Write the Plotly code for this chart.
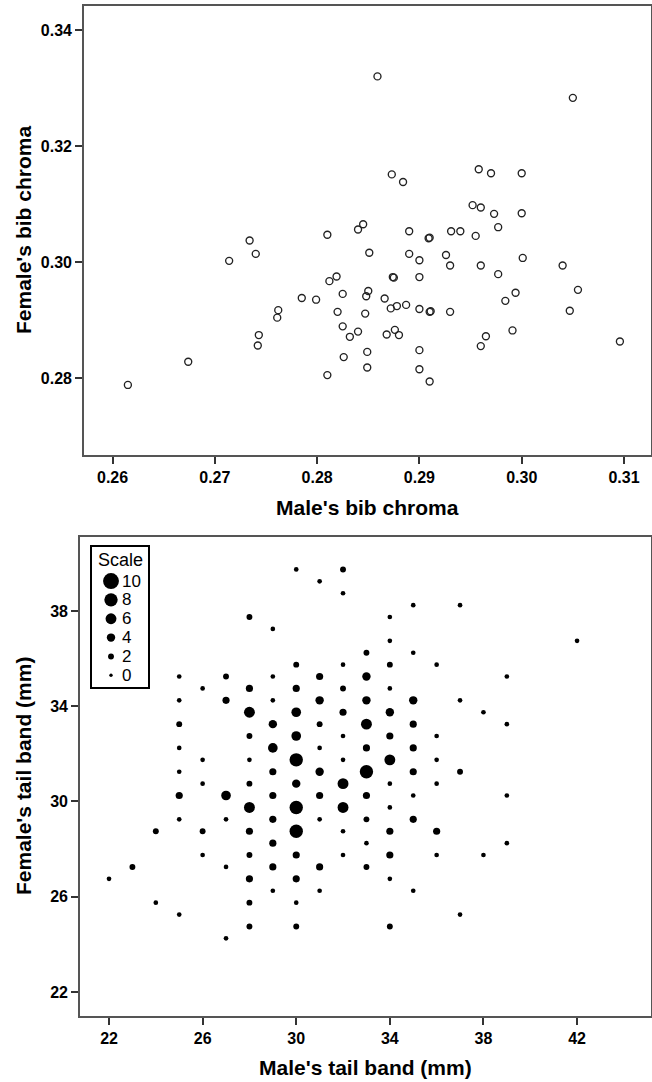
import plotly.graph_objects as go

# ---------------- data: top panel (bib chroma) ----------------
male_bib = [0.2859, 0.3050, 0.2873, 0.2884, 0.2958, 0.2970, 0.3000, 0.2952, 0.2960, 0.2973,
            0.3000, 0.2734, 0.2740, 0.2714, 0.2810, 0.2840, 0.2845, 0.2890, 0.2909, 0.2910,
            0.2931, 0.2940, 0.2955, 0.2977, 0.2851, 0.2890, 0.2900, 0.2926, 0.2930, 0.2960,
            0.3001, 0.2977, 0.3040, 0.2819, 0.2812, 0.2825, 0.2850, 0.2848, 0.2785, 0.2799,
            0.2762, 0.2761, 0.2820, 0.2847, 0.2825, 0.2840, 0.2832, 0.2743, 0.2742, 0.2849,
            0.2826, 0.2849, 0.2810, 0.2674, 0.2615, 0.2874, 0.2875, 0.2900, 0.3055, 0.2994,
            0.2984, 0.3047, 0.2866, 0.2872, 0.2878, 0.2887, 0.2900, 0.2910, 0.2911, 0.2930,
            0.2868, 0.2876, 0.2880, 0.2965, 0.2960, 0.2991, 0.3096, 0.2900, 0.2900, 0.2910]
female_bib = [0.3320, 0.3283, 0.3151, 0.3138, 0.3160, 0.3153, 0.3153, 0.3098, 0.3094, 0.3083,
              0.3084, 0.3037, 0.3014, 0.3002, 0.3047, 0.3056, 0.3065, 0.3053, 0.3041, 0.3042,
              0.3053, 0.3053, 0.3045, 0.3060, 0.3016, 0.3014, 0.3003, 0.3012, 0.2994, 0.2994,
              0.3007, 0.2979, 0.2994, 0.2975, 0.2967, 0.2945, 0.2950, 0.2941, 0.2938, 0.2935,
              0.2917, 0.2904, 0.2914, 0.2911, 0.2889, 0.2880, 0.2871, 0.2874, 0.2856, 0.2845,
              0.2836, 0.2818, 0.2805, 0.2828, 0.2788, 0.2974, 0.2973, 0.2974, 0.2952, 0.2947,
              0.2933, 0.2916, 0.2937, 0.2920, 0.2924, 0.2926, 0.2919, 0.2914, 0.2915, 0.2914,
              0.2875, 0.2883, 0.2874, 0.2872, 0.2855, 0.2882, 0.2863, 0.2848, 0.2815, 0.2794]

# ---------------- data: bottom panel (tail band) ----------------
male_tail = [30, 32,
             31,
             32,
             35, 37,
             28, 34,
             29,
             34, 42,
             33, 35,
             30, 32, 34, 36,
             25, 27, 29, 31, 33, 39,
             26, 28, 30, 32, 34,
             25, 27, 29, 31, 33, 35, 37,
             28, 30, 32, 34, 38,
             25, 29, 31, 33, 35, 39,
             28, 30, 32, 34, 36,
             25, 29, 31, 33, 35,
             26, 28, 30, 32, 34, 36,
             25, 29, 31, 33, 35, 37,
             26, 28, 30, 32, 34, 36,
             25, 27, 29, 31, 33, 35, 39,
             28, 30, 32, 34,
             25, 27, 29, 31, 33, 35,
             24, 26, 28, 30, 32, 34, 36,
             29, 33, 39,
             26, 28, 30, 32, 34, 36, 38,
             23, 27, 29, 31, 33,
             22, 28, 30, 34,
             29, 31, 35,
             24, 28, 30,
             25, 37,
             28, 30, 34,
             27]
female_tail = [39.75, 39.75,
               39.25,
               38.75,
               38.25, 38.25,
               37.75, 37.75,
               37.25,
               36.75, 36.75,
               36.25, 36.25,
               35.75, 35.75, 35.75, 35.75,
               35.25, 35.25, 35.25, 35.25, 35.25, 35.25,
               34.75, 34.75, 34.75, 34.75, 34.75,
               34.25, 34.25, 34.25, 34.25, 34.25, 34.25, 34.25,
               33.75, 33.75, 33.75, 33.75, 33.75,
               33.25, 33.25, 33.25, 33.25, 33.25, 33.25,
               32.75, 32.75, 32.75, 32.75, 32.75,
               32.25, 32.25, 32.25, 32.25, 32.25,
               31.75, 31.75, 31.75, 31.75, 31.75, 31.75,
               31.25, 31.25, 31.25, 31.25, 31.25, 31.25,
               30.75, 30.75, 30.75, 30.75, 30.75, 30.75,
               30.25, 30.25, 30.25, 30.25, 30.25, 30.25, 30.25,
               29.75, 29.75, 29.75, 29.75,
               29.25, 29.25, 29.25, 29.25, 29.25, 29.25,
               28.75, 28.75, 28.75, 28.75, 28.75, 28.75, 28.75,
               28.25, 28.25, 28.25,
               27.75, 27.75, 27.75, 27.75, 27.75, 27.75, 27.75,
               27.25, 27.25, 27.25, 27.25, 27.25,
               26.75, 26.75, 26.75, 26.75,
               26.25, 26.25, 26.25,
               25.75, 25.75, 25.75,
               25.25, 25.25,
               24.75, 24.75, 24.75,
               24.25]
pair_count = [1, 2,
              1,
              1,
              1, 1,
              2, 1,
              1,
              1, 1,
              2, 1,
              2, 1, 2, 1,
              1, 2, 1, 3, 4, 1,
              1, 3, 3, 2, 1,
              1, 3, 1, 4, 4, 4, 1,
              6, 5, 3, 4, 1,
              2, 4, 2, 6, 3, 1,
              2, 5, 1, 3, 1,
              1, 5, 1, 3, 3,
              1, 1, 8, 1, 6, 1,
              1, 3, 4, 8, 3, 2,
              1, 2, 4, 6, 1, 1,
              3, 5, 3, 3, 3, 1, 1,
              6, 8, 6, 1,
              1, 1, 3, 1, 2, 3,
              2, 2, 3, 8, 1, 3, 3,
              3, 1, 1,
              1, 2, 3, 1, 3, 1, 1,
              2, 1, 3, 3, 2,
              1, 3, 3, 1,
              1, 1, 1,
              1, 2, 1,
              1, 1,
              2, 2, 2,
              1]

scale_values = [10, 8, 6, 4, 2, 0]

top_x_ticks = [0.26, 0.27, 0.28, 0.29, 0.30, 0.31]
top_y_ticks = [0.28, 0.30, 0.32, 0.34]
bot_x_ticks = [22, 26, 30, 34, 38, 42]
bot_y_ticks = [22, 26, 30, 34, 38]


def dot_size(n):
    return 3.4 + 1.25 * n


W, H = 652, 1082
FONT = "Liberation Sans, Arial, Helvetica, sans-serif"

fig = go.Figure()

fig.add_trace(go.Scatter(
    x=male_bib, y=female_bib, mode="markers", xaxis="x", yaxis="y",
    marker=dict(symbol="circle-open", size=7.0, opacity=1, color="#222222",
                line=dict(width=1.35, color="#222222")),
    showlegend=False, hoverinfo="x+y"))

fig.add_trace(go.Scatter(
    x=male_tail, y=female_tail, mode="markers", xaxis="x2", yaxis="y2",
    marker=dict(size=[dot_size(n) for n in pair_count], color="#000000", opacity=1,
                line=dict(width=0)),
    showlegend=False, hoverinfo="x+y"))

# legend ("Scale") drawn in its own small axes
leg_idx = list(range(len(scale_values)))
fig.add_trace(go.Scatter(
    x=[19.3] * len(scale_values), y=leg_idx, mode="markers", xaxis="x3", yaxis="y3",
    marker=dict(size=[dot_size(v) for v in scale_values], color="#000000", opacity=1,
                line=dict(width=0)),
    showlegend=False, hoverinfo="skip"))

axis_line = dict(showline=True, linecolor="#555555", linewidth=1.6, mirror=True,
                 showgrid=False, zeroline=False, ticks="outside", ticklen=7,
                 tickwidth=1.5, tickcolor="#333333",
                 tickfont=dict(family=FONT, size=16, color="black", weight="bold"))

fig.update_layout(
    width=W, height=H, margin=dict(l=0, r=0, t=0, b=0),
    paper_bgcolor="white", plot_bgcolor="white",
    xaxis=dict(domain=[84 / W, 651 / W], range=[0.25721, 0.31264],
               tickvals=top_x_ticks, ticktext=[f"{v:.2f}" for v in top_x_ticks],
               anchor="y", **axis_line),
    yaxis=dict(domain=[1 - 455 / H, 1 - 6 / H], range=[0.26672, 0.34414],
               tickvals=top_y_ticks, ticktext=[f"{v:.2f}" for v in top_y_ticks],
               anchor="x", **axis_line),
    xaxis2=dict(domain=[80 / W, 651 / W], range=[20.76, 45.16],
                tickvals=bot_x_ticks, anchor="y2", **axis_line),
    yaxis2=dict(domain=[1 - 1015.7 / H, 1 - 537.3 / H], range=[21.0, 41.1],
                tickvals=bot_y_ticks, anchor="x2", **axis_line),
    xaxis3=dict(domain=[91.7 / W, 147.7 / W], range=[0, 56], anchor="y3",
                showline=True, mirror=True, linecolor="black", linewidth=1.5,
                showticklabels=False, ticks="", showgrid=False, zeroline=False, fixedrange=True),
    yaxis3=dict(domain=[1 - 686.7 / H, 1 - 546.7 / H], range=[5.604, -1.819], anchor="x3",
                showline=True, mirror=True, linecolor="black", linewidth=1.5,
                showticklabels=False, ticks="", showgrid=False, zeroline=False, fixedrange=True),
)

annotations = []
title_font = dict(family=FONT, size=21, color="black", weight="bold")
annotations.append(dict(text="Male's bib chroma", x=367.5 / W, y=1 - 507 / H, xref="paper", yref="paper",
                        showarrow=False, font=title_font, xanchor="center", yanchor="middle"))
annotations.append(dict(text="Female's bib chroma", x=23 / W, y=1 - 230 / H, xref="paper", yref="paper",
                        showarrow=False, font=title_font, textangle=-90, xanchor="center", yanchor="middle"))
annotations.append(dict(text="Male's tail band (mm)", x=365.5 / W, y=1 - 1067 / H, xref="paper", yref="paper",
                        showarrow=False, font=title_font, xanchor="center", yanchor="middle"))
annotations.append(dict(text="Female's tail band (mm)", x=23 / W, y=1 - 776 / H, xref="paper", yref="paper",
                        showarrow=False, font=title_font, textangle=-90, xanchor="center", yanchor="middle"))
# legend texts
annotations.append(dict(text="Scale", x=4.5, y=-1.113, xref="x3", yref="y3", showarrow=False,
                        font=dict(family=FONT, size=18, color="black"), xanchor="left", yanchor="middle"))
for i, v in enumerate(scale_values):
    annotations.append(dict(text=str(v), x=28.5, y=i, xref="x3", yref="y3", showarrow=False,
                            font=dict(family=FONT, size=17, color="black"), xanchor="left", yanchor="middle"))
fig.update_layout(annotations=annotations)

fig.write_html("out.html", config={"displayModeBar": False},
               post_script="document.body.style.margin='0';document.body.style.overflow='hidden';")
